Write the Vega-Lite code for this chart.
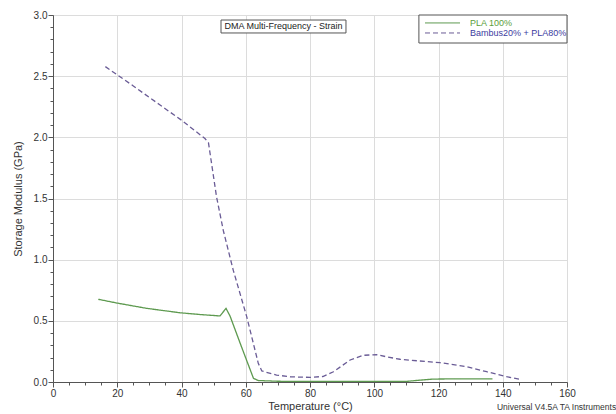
{
  "$schema": "https://vega.github.io/schema/vega-lite/v6.json",
  "width": 514,
  "height": 367,
  "autosize": {"type": "none"},
  "padding": {"left": 53, "top": 15, "right": 49, "bottom": 32},
  "background": "white",
  "config": {
    "font": "Liberation Sans",
    "view": {"stroke": "#555555", "strokeWidth": 1},
    "axis": {"domainColor": "#555555", "tickColor": "#555555", "labelColor": "#333333", "titleColor": "#333333", "labelFont": "Liberation Sans", "titleFont": "Liberation Sans", "labelFontSize": 10, "titleFontSize": 11, "titleFontWeight": "normal", "gridColor": "#dcdcdc", "labelOverlap": false}
  },
  "datasets": {
    "curves": [
      {"series": "PLA 100%", "T": 14.1, "E": 0.676},
      {"series": "PLA 100%", "T": 20, "E": 0.645},
      {"series": "PLA 100%", "T": 29.2, "E": 0.602},
      {"series": "PLA 100%", "T": 39.5, "E": 0.566},
      {"series": "PLA 100%", "T": 46, "E": 0.551},
      {"series": "PLA 100%", "T": 52.0, "E": 0.540},
      {"series": "PLA 100%", "T": 53.85, "E": 0.602},
      {"series": "PLA 100%", "T": 55.1, "E": 0.540},
      {"series": "PLA 100%", "T": 58.5, "E": 0.30},
      {"series": "PLA 100%", "T": 62.4, "E": 0.03},
      {"series": "PLA 100%", "T": 63.9, "E": 0.012},
      {"series": "PLA 100%", "T": 70, "E": 0.006},
      {"series": "PLA 100%", "T": 90, "E": 0.004},
      {"series": "PLA 100%", "T": 110, "E": 0.005},
      {"series": "PLA 100%", "T": 114.2, "E": 0.015},
      {"series": "PLA 100%", "T": 118.4, "E": 0.024},
      {"series": "PLA 100%", "T": 128, "E": 0.026},
      {"series": "PLA 100%", "T": 136.8, "E": 0.025},
      {"series": "Bambus20% + PLA80%", "T": 16.3, "E": 2.578},
      {"series": "Bambus20% + PLA80%", "T": 25, "E": 2.42},
      {"series": "Bambus20% + PLA80%", "T": 33, "E": 2.27},
      {"series": "Bambus20% + PLA80%", "T": 40, "E": 2.14},
      {"series": "Bambus20% + PLA80%", "T": 47.3, "E": 1.99},
      {"series": "Bambus20% + PLA80%", "T": 48.4, "E": 1.955},
      {"series": "Bambus20% + PLA80%", "T": 50.9, "E": 1.515},
      {"series": "Bambus20% + PLA80%", "T": 53.0, "E": 1.24},
      {"series": "Bambus20% + PLA80%", "T": 56.1, "E": 0.915},
      {"series": "Bambus20% + PLA80%", "T": 60.3, "E": 0.534},
      {"series": "Bambus20% + PLA80%", "T": 63.9, "E": 0.153},
      {"series": "Bambus20% + PLA80%", "T": 65.0, "E": 0.090},
      {"series": "Bambus20% + PLA80%", "T": 69.6, "E": 0.057},
      {"series": "Bambus20% + PLA80%", "T": 74, "E": 0.042},
      {"series": "Bambus20% + PLA80%", "T": 80, "E": 0.038},
      {"series": "Bambus20% + PLA80%", "T": 84, "E": 0.045},
      {"series": "Bambus20% + PLA80%", "T": 87.3, "E": 0.084},
      {"series": "Bambus20% + PLA80%", "T": 92.5, "E": 0.18},
      {"series": "Bambus20% + PLA80%", "T": 96.6, "E": 0.218},
      {"series": "Bambus20% + PLA80%", "T": 100.7, "E": 0.224},
      {"series": "Bambus20% + PLA80%", "T": 104, "E": 0.205},
      {"series": "Bambus20% + PLA80%", "T": 108, "E": 0.186},
      {"series": "Bambus20% + PLA80%", "T": 114, "E": 0.172},
      {"series": "Bambus20% + PLA80%", "T": 120.5, "E": 0.158},
      {"series": "Bambus20% + PLA80%", "T": 128.8, "E": 0.125},
      {"series": "Bambus20% + PLA80%", "T": 135, "E": 0.084},
      {"series": "Bambus20% + PLA80%", "T": 141.2, "E": 0.043},
      {"series": "Bambus20% + PLA80%", "T": 145.6, "E": 0.02}
    ],
    "boxes": [
      {"T": 52.3, "T2": 91.2, "E": 2.853, "E2": 2.959},
      {"T": 113.9, "T2": 160, "E": 2.771, "E2": 3.0}
    ],
    "titletext": [
      {"T": 71.75, "E": 2.906, "label": "DMA Multi-Frequency - Strain"}
    ],
    "legendlines": [
      {"series": "PLA 100%", "T": 115.8, "T2": 126.7, "E": 2.935},
      {"series": "Bambus20% + PLA80%", "T": 115.8, "T2": 126.7, "E": 2.853}
    ],
    "legendtext": [
      {"series": "PLA 100%", "T": 129.8, "E": 2.935},
      {"series": "Bambus20% + PLA80%", "T": 129.8, "E": 2.853}
    ],
    "footer": [
      {"T": 138.2, "E": -0.205, "label": "Universal V4.5A TA Instruments"}
    ]
  },
  "encoding": {
    "x": {
      "field": "T", "type": "quantitative",
      "scale": {"domain": [0, 160], "nice": false},
      "axis": {
        "title": "Temperature (°C)",
        "values": [0,5,10,15,20,25,30,35,40,45,50,55,60,65,70,75,80,85,90,95,100,105,110,115,120,125,130,135,140,145,150,155,160],
        "labelExpr": "datum.value % 20 === 0 ? datum.label : ''",
        "tickSize": {"condition": {"test": "datum.value % 20 === 0", "value": 5}, "value": 3},
        "gridOpacity": {"condition": {"test": "datum.value % 20 === 0", "value": 1}, "value": 0},
        "labelPadding": 1,
        "titlePadding": 2,
        "labelFlush": false
      }
    },
    "y": {
      "field": "E", "type": "quantitative",
      "scale": {"domain": [0, 3], "nice": false},
      "axis": {
        "title": "Storage Modulus (GPa)",
        "values": [0,0.1,0.2,0.3,0.4,0.5,0.6,0.7,0.8,0.9,1,1.1,1.2,1.3,1.4,1.5,1.6,1.7,1.8,1.9,2,2.1,2.2,2.3,2.4,2.5,2.6,2.7,2.8,2.9,3],
        "format": ".1f",
        "labelExpr": "(datum.value * 10) % 5 === 0 ? datum.label : ''",
        "tickSize": {"condition": {"test": "(datum.value * 10) % 5 === 0", "value": 5}, "value": 3},
        "gridOpacity": {"condition": {"test": "(datum.value * 10) % 5 === 0", "value": 1}, "value": 0},
        "labelPadding": 1,
        "titlePadding": 10,
        "labelFlush": false
      }
    }
  },
  "layer": [
    {
      "data": {"name": "curves"},
      "mark": {"type": "line", "strokeWidth": 1.3, "clip": true},
      "encoding": {
        "color": {
          "field": "series", "type": "nominal",
          "scale": {"domain": ["PLA 100%", "Bambus20% + PLA80%"], "range": ["#5e9a50", "#6a5c96"]},
          "legend": null
        },
        "strokeDash": {
          "field": "series", "type": "nominal",
          "scale": {"domain": ["PLA 100%", "Bambus20% + PLA80%"], "range": [[1, 0], [5, 3]]},
          "legend": null
        }
      }
    },
    {
      "data": {"name": "boxes"},
      "mark": {"type": "rect", "fill": "white", "stroke": "#555555", "strokeWidth": 1},
      "encoding": {
        "x2": {"field": "T2"},
        "y2": {"field": "E2"}
      }
    },
    {
      "data": {"name": "legendlines"},
      "mark": {"type": "rule", "strokeWidth": 1},
      "encoding": {
        "x2": {"field": "T2"},
        "color": {"field": "series", "type": "nominal", "legend": null},
        "strokeDash": {"field": "series", "type": "nominal", "legend": null}
      }
    },
    {
      "data": {"name": "legendtext"},
      "mark": {"type": "text", "fontSize": 9, "font": "Liberation Sans", "align": "left", "baseline": "middle"},
      "encoding": {
        "text": {"field": "series"},
        "color": {"condition": {"test": "datum.series === 'PLA 100%'", "value": "#5a9e3a"}, "value": "#3c3ca0"}
      }
    },
    {
      "data": {"name": "titletext"},
      "mark": {"type": "text", "fontSize": 9, "color": "#222222", "font": "Liberation Sans", "align": "center", "baseline": "middle"},
      "encoding": {
        "text": {"field": "label"}
      }
    },
    {
      "data": {"name": "footer"},
      "mark": {"type": "text", "fontSize": 8.5, "color": "#333333", "font": "Liberation Sans", "align": "left", "baseline": "middle"},
      "encoding": {
        "text": {"field": "label"}
      }
    }
  ]
}
